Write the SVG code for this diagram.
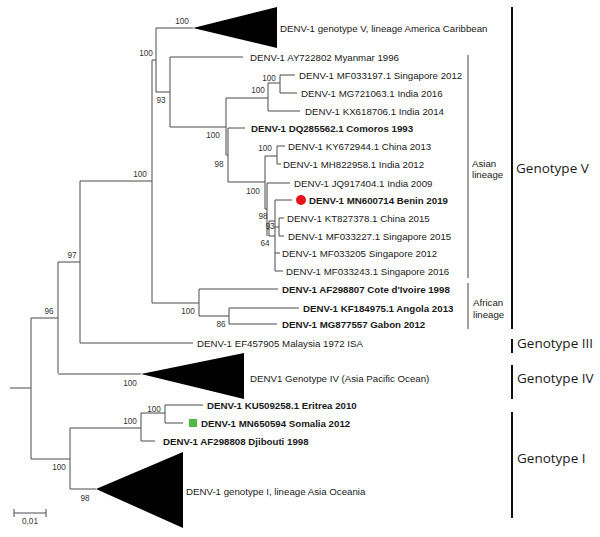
<svg xmlns="http://www.w3.org/2000/svg" width="600" height="537" viewBox="0 0 600 537">
<style>
.br{fill:none;stroke:#4a4a4a;stroke-width:1}
.t{font-family:"Liberation Sans",Arial,sans-serif;font-size:9.7px;fill:#1a1a1a}
.b{font-weight:bold}
.bs{font-family:"Liberation Sans",Arial,sans-serif;font-size:8.2px;fill:#333;text-anchor:middle}
.tri{fill:#000}
.gbar{stroke:#111;stroke-width:2}
.lbar{stroke:#444;stroke-width:1}
.g{font-family:"Open Sans","Noto Sans",sans-serif;font-size:13.5px;fill:#1a1a1a}
</style>
<rect width="600" height="537" fill="#fff"/>
<g id="connectors" class="br">
<path d="M10 388H31M31 318V459M31 318H58M58 262V373M58 262H80M80 181V343M80 181H152M152 60V303M152 60H156M156 28V92M156 28H193M156 92H170M170 57V127M170 57H243M170 127H226M226 98V155M226 98H268M268 83V111M268 83H280M280 75V93M280 75H295M280 93H297M268 111H300M226 155H228M228 128V182M228 128H245M228 182H265M265 156V209M265 156H277M277 146V164M277 146H285M277 164H281M265 209H267M267 183V236M267 183H290M267 229H269M269 221V236M269 221H275M269 236H275M275 200V271M275 200H292M275 227H279M279 218V236M279 218H284M279 236H284M275 253H280M275 271H283M152 303H199M199 289V316M199 289H278M199 316H229M229 308V324M229 308H299M229 324H277M80 343H193M58 374H141M31 459H70M70 428V489M70 428H141M141 413V441M141 413H165M165 405V423M165 405H203M165 423H183M141 441H155M70 489H96"/>
</g>
<g id="bootstrap">
<text class="bs" x="182" y="24">100</text>
<text class="bs" x="146" y="56">100</text>
<text class="bs" x="161" y="103">93</text>
<text class="bs" x="269" y="81">100</text>
<text class="bs" x="258" y="93">100</text>
<text class="bs" x="213" y="138">100</text>
<text class="bs" x="219" y="167">98</text>
<text class="bs" x="265" y="151">100</text>
<text class="bs" x="253" y="194">100</text>
<text class="bs" x="263" y="219">98</text>
<text class="bs" x="270" y="229">93</text>
<text class="bs" x="265" y="246">64</text>
<text class="bs" x="140" y="177">100</text>
<text class="bs" x="188" y="314">100</text>
<text class="bs" x="221" y="327">86</text>
<text class="bs" x="72" y="258">97</text>
<text class="bs" x="49" y="314">96</text>
<text class="bs" x="130" y="386">100</text>
<text class="bs" x="154" y="412">100</text>
<text class="bs" x="130" y="424">100</text>
<text class="bs" x="59" y="470">100</text>
<text class="bs" x="85" y="501">98</text>
</g>
<g id="clade-america-caribbean"><path class="tri" d="M193 28L277 7L277 48Z"/><text class="t" x="280" y="31.5">DENV-1 genotype V, lineage America Caribbean</text></g>
<g id="leaf-AY722802"><text class="t" x="250" y="60.5">DENV-1 AY722802 Myanmar 1996</text></g>
<g id="leaf-MF033197"><text class="t" x="299" y="78.5">DENV-1 MF033197.1 Singapore 2012</text></g>
<g id="leaf-MG721063"><text class="t" x="301" y="96.5">DENV-1 MG721063.1 India 2016</text></g>
<g id="leaf-KX618706"><text class="t" x="305" y="114.5">DENV-1 KX618706.1 India 2014</text></g>
<g id="leaf-DQ285562"><text class="t b" x="251" y="131.5">DENV-1 DQ285562.1 Comoros 1993</text></g>
<g id="leaf-KY672944"><text class="t" x="288" y="149.5">DENV-1 KY672944.1 China 2013</text></g>
<g id="leaf-MH822958"><text class="t" x="283" y="167.5">DENV-1 MH822958.1 India 2012</text></g>
<g id="leaf-JQ917404"><text class="t" x="294" y="186.5">DENV-1 JQ917404.1 India 2009</text></g>
<g id="leaf-MN600714"><circle cx="301" cy="200" r="5" fill="#e8141c"/><text class="t b" x="309" y="203.5">DENV-1 MN600714 Benin 2019</text></g>
<g id="leaf-KT827378"><text class="t" x="287" y="221.5">DENV-1 KT827378.1 China 2015</text></g>
<g id="leaf-MF033227"><text class="t" x="288" y="239.5">DENV-1 MF033227.1 Singapore 2015</text></g>
<g id="leaf-MF033205"><text class="t" x="282" y="256.5">DENV-1 MF033205 Singapore 2012</text></g>
<g id="leaf-MF033243"><text class="t" x="286" y="274.5">DENV-1 MF033243.1 Singapore 2016</text></g>
<g id="leaf-AF298807"><text class="t b" x="282" y="292.5">DENV-1 AF298807 Cote d'Ivoire 1998</text></g>
<g id="leaf-KF184975"><text class="t b" x="303" y="311.5">DENV-1 KF184975.1 Angola 2013</text></g>
<g id="leaf-MG877557"><text class="t b" x="282" y="327.5">DENV-1 MG877557 Gabon 2012</text></g>
<g id="leaf-EF457905"><text class="t" x="197" y="346.5">DENV-1 EF457905 Malaysia 1972 ISA</text></g>
<g id="clade-genotype-IV"><path class="tri" d="M141 374L244 353L244 399Z"/><text class="t" x="250" y="381.5">DENV1 Genotype IV (Asia Pacific Ocean)</text></g>
<g id="leaf-KU509258"><text class="t b" x="207" y="408.5">DENV-1 KU509258.1 Eritrea 2010</text></g>
<g id="leaf-MN650594"><rect x="189" y="419" width="8" height="8" fill="#52b846"/><text class="t b" x="201" y="426.5">DENV-1 MN650594 Somalia 2012</text></g>
<g id="leaf-AF298808"><text class="t b" x="163" y="444.5">DENV-1 AF298808 Djibouti 1998</text></g>
<g id="clade-genotype-I"><path class="tri" d="M96 489L183 452L183 528Z"/><text class="t" x="186" y="494.5">DENV-1 genotype I, lineage Asia Oceania</text></g>
<g id="asian-lineage"><line class="lbar" x1="468" y1="55" x2="468" y2="278"/><text class="t" x="472" y="166.5">Asian</text><text class="t" x="472" y="177.5">lineage</text></g>
<g id="african-lineage"><line class="lbar" x1="468" y1="283" x2="468" y2="329"/><text class="t" x="473" y="305.5">African</text><text class="t" x="473" y="317.5">lineage</text></g>
<g id="genotype-V"><line class="gbar" x1="512" y1="7" x2="512" y2="329"/><text class="g" x="516" y="173">Genotype V</text></g>
<g id="genotype-III"><line class="gbar" x1="512" y1="339" x2="512" y2="353"/><text class="g" x="517" y="348">Genotype III</text></g>
<g id="genotype-IV"><line class="gbar" x1="512" y1="365" x2="512" y2="399"/><text class="g" x="517" y="383">Genotype IV</text></g>
<g id="genotype-I"><line class="gbar" x1="512" y1="412" x2="512" y2="518"/><text class="g" x="517" y="463">Genotype I</text></g>
<g id="scale-bar"><path class="br" d="M14 513H46M14 509V517M46 509V517"/><text class="bs" x="30" y="524">0,01</text></g>
</svg>
